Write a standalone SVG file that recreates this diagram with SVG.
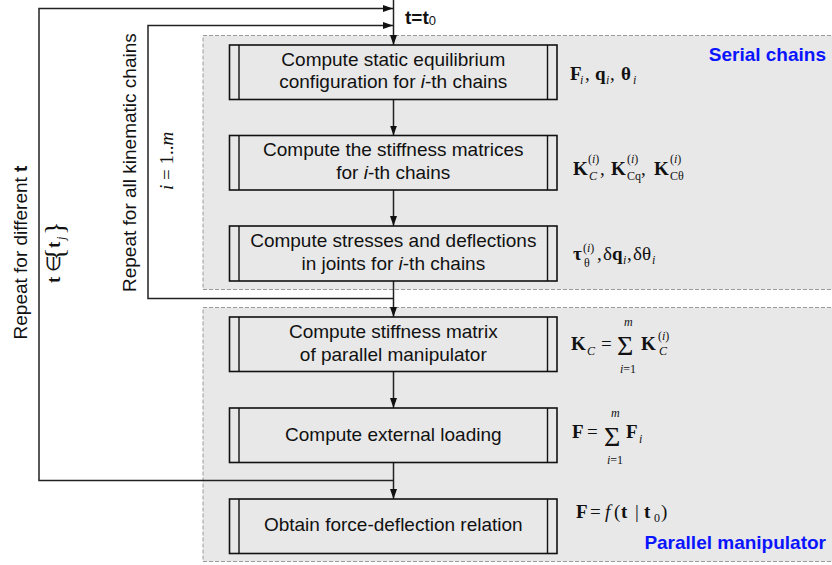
<svg xmlns="http://www.w3.org/2000/svg" width="832" height="565" viewBox="0 0 832 565">
<style>
.panel{fill:#e8e8e8;stroke:#9a9a9a;stroke-width:1;stroke-dasharray:4,2}
.box{fill:#e8e8e8;stroke:#111;stroke-width:1.6}
.bar{stroke:#111;stroke-width:1.4}
.t{font-family:"Liberation Sans",Arial,sans-serif;font-size:19px;fill:#111;text-anchor:middle}
.lbl{font-family:"Liberation Sans",Arial,sans-serif;font-size:19px;fill:#111}
.title{font-family:"Liberation Sans",Arial,sans-serif;font-size:19px;font-weight:bold;fill:#0a14ff}
.m{font-family:"Liberation Serif","Times New Roman",serif;font-size:19px;fill:#111}
.b{font-weight:bold}
.s{font-size:12px}
.it{font-style:italic}
.big{font-size:28px}
.conn{fill:none;stroke:#222;stroke-width:1.5}
</style>
<defs>
<marker id="ah" markerWidth="10" markerHeight="7" refX="10" refY="3.5" orient="auto" markerUnits="userSpaceOnUse">
<path d="M0,0 L10,3.5 L0,7 z" fill="#111"/>
</marker>
</defs>

<rect class="panel" x="203" y="35.5" width="640" height="254"/>
<rect class="panel" x="203" y="307.5" width="640" height="254"/>
<text class="title" x="826" y="61" text-anchor="end">Serial chains</text>
<text class="title" x="826" y="549" text-anchor="end">Parallel manipulator</text>

<g id="connectors">
<line class="conn" x1="393.5" y1="0" x2="393.5" y2="45" marker-end="url(#ah)"/>
<polyline class="conn" points="393.5,480.5 39,480.5 39,8.5 393,8.5" marker-end="url(#ah)"/>
<polyline class="conn" points="393.5,298.5 148,298.5 148,25.5 393,25.5" marker-end="url(#ah)"/>
<line class="conn" x1="393.5" y1="99.5" x2="393.5" y2="135.5" marker-end="url(#ah)"/>
<line class="conn" x1="393.5" y1="190" x2="393.5" y2="226" marker-end="url(#ah)"/>
<line class="conn" x1="393.5" y1="281" x2="393.5" y2="317" marker-end="url(#ah)"/>
<line class="conn" x1="393.5" y1="371.5" x2="393.5" y2="408" marker-end="url(#ah)"/>
<line class="conn" x1="393.5" y1="462.5" x2="393.5" y2="499" marker-end="url(#ah)"/>
</g>

<text class="lbl b" x="405" y="24" font-size="18">t=t<tspan font-weight="normal" font-size="13" dy="1">0</tspan></text>

<g id="n1">
<rect class="box" x="229.5" y="45" width="327.5" height="54.5"/>
<line class="bar" x1="239" y1="45" x2="239" y2="99.5"/><line class="bar" x1="547.5" y1="45" x2="547.5" y2="99.5"/>
<text class="t" x="393.3" y="65.5">Compute static equilibrium</text>
<text class="t" x="393.3" y="88">configuration for <tspan class="it">i</tspan>-th chains</text>
</g>
<g id="n2">
<rect class="box" x="229.5" y="135.5" width="327.5" height="54.5"/>
<line class="bar" x1="239" y1="135.5" x2="239" y2="190"/><line class="bar" x1="547.5" y1="135.5" x2="547.5" y2="190"/>
<text class="t" x="393.3" y="156">Compute the stiffness matrices</text>
<text class="t" x="393.3" y="179">for <tspan class="it">i</tspan>-th chains</text>
</g>
<g id="n3">
<rect class="box" x="229.5" y="226" width="327.5" height="55"/>
<line class="bar" x1="239" y1="226" x2="239" y2="281"/><line class="bar" x1="547.5" y1="226" x2="547.5" y2="281"/>
<text class="t" x="393.3" y="246.5">Compute stresses and deflections</text>
<text class="t" x="393.3" y="269.5">in joints for <tspan class="it">i</tspan>-th chains</text>
</g>
<g id="n4">
<rect class="box" x="229.5" y="317" width="327.5" height="54.5"/>
<line class="bar" x1="239" y1="317" x2="239" y2="371.5"/><line class="bar" x1="547.5" y1="317" x2="547.5" y2="371.5"/>
<text class="t" x="393.3" y="337.5">Compute stiffness matrix</text>
<text class="t" x="393.3" y="361">of parallel manipulator</text>
</g>
<g id="n5">
<rect class="box" x="229.5" y="408" width="327.5" height="54.5"/>
<line class="bar" x1="239" y1="408" x2="239" y2="462.5"/><line class="bar" x1="547.5" y1="408" x2="547.5" y2="462.5"/>
<text class="t" x="393.3" y="440.5">Compute external loading</text>
</g>
<g id="n6">
<rect class="box" x="229.5" y="499" width="327.5" height="54.5"/>
<line class="bar" x1="239" y1="499" x2="239" y2="553.5"/><line class="bar" x1="547.5" y1="499" x2="547.5" y2="553.5"/>
<text class="t" x="393.3" y="531">Obtain force-deflection relation</text>
</g>

<!-- formulas -->
<text class="m"><tspan class="b" x="570" y="80">F</tspan><tspan class="s it" x="580" y="84">i</tspan><tspan x="585" y="80">,</tspan><tspan class="b" x="595" y="80">q</tspan><tspan class="s it" x="606" y="84">i</tspan><tspan x="610" y="80">,</tspan><tspan class="b" x="621" y="80">θ</tspan><tspan class="s it" x="633" y="84">i</tspan></text>

<text class="m"><tspan class="b" x="573" y="175">K</tspan><tspan class="s" x="588" y="163">(<tspan class="it">i</tspan>)</tspan><tspan class="s it" x="589" y="180">C</tspan><tspan x="600" y="175">,</tspan><tspan class="b" x="611" y="175">K</tspan><tspan class="s" x="627" y="163">(<tspan class="it">i</tspan>)</tspan><tspan class="s" x="627" y="180">Cq</tspan><tspan x="641" y="175">,</tspan><tspan class="b" x="654" y="175">K</tspan><tspan class="s" x="670" y="163">(<tspan class="it">i</tspan>)</tspan><tspan class="s" x="670" y="180">Cθ</tspan></text>

<text class="m"><tspan class="b" x="573" y="260">τ</tspan><tspan class="s" x="583" y="252">(<tspan class="it">i</tspan>)</tspan><tspan class="s" x="584" y="267">θ</tspan><tspan x="597" y="260">,</tspan><tspan x="603" y="260">δ</tspan><tspan class="b" x="612" y="260">q</tspan><tspan class="s it" x="623" y="264">i</tspan><tspan x="627" y="260">,</tspan><tspan x="633" y="260">δθ</tspan><tspan class="s it" x="652" y="264">i</tspan></text>

<text class="m"><tspan class="b" x="571" y="350">K</tspan><tspan class="s it" x="587" y="355">C</tspan><tspan x="601" y="350">=</tspan><tspan class="big" x="617" y="355">Σ</tspan><tspan class="s it" x="624" y="326">m</tspan><tspan class="s" x="620" y="373"><tspan class="it">i</tspan>=1</tspan><tspan class="b" x="641" y="350">K</tspan><tspan class="s" x="658" y="340">(<tspan class="it">i</tspan>)</tspan><tspan class="s it" x="659" y="355">C</tspan></text>

<text class="m"><tspan class="b" x="572" y="438">F</tspan><tspan x="587" y="438">=</tspan><tspan class="big" x="604" y="446">Σ</tspan><tspan class="s it" x="611" y="417">m</tspan><tspan class="s" x="607" y="464"><tspan class="it">i</tspan>=1</tspan><tspan class="b" x="626" y="438">F</tspan><tspan class="s it" x="639" y="443">i</tspan></text>

<text class="m"><tspan class="b" x="576" y="518">F</tspan><tspan x="590" y="518">=</tspan><tspan class="it" x="605" y="518">f</tspan><tspan x="614" y="518">(</tspan><tspan class="b" x="621" y="518">t</tspan><tspan x="635" y="518">|</tspan><tspan class="b" x="644" y="518">t</tspan><tspan class="s" x="654" y="522">0</tspan><tspan x="661" y="518">)</tspan></text>

<!-- rotated labels -->
<text class="lbl" transform="translate(27,252.5) rotate(-90)" text-anchor="middle">Repeat for different <tspan class="b">t</tspan></text>
<text class="lbl" transform="translate(136,292) rotate(-90)">Repeat for all kinematic chains</text>
<g transform="translate(60,283) rotate(-90)">
<text class="m" font-size="18"><tspan class="b" x="0" y="0">t</tspan><tspan x="11" y="0">∈</tspan><tspan font-size="28" x="22" y="4">{</tspan><tspan class="b" x="35" y="0">t</tspan><tspan class="s it" x="43" y="5">j</tspan><tspan font-size="28" x="48" y="4">}</tspan></text>
</g>
<text class="m it" font-size="18" transform="translate(173,190) rotate(-90)">i <tspan font-style="normal">= 1..</tspan>m</text>
</svg>
